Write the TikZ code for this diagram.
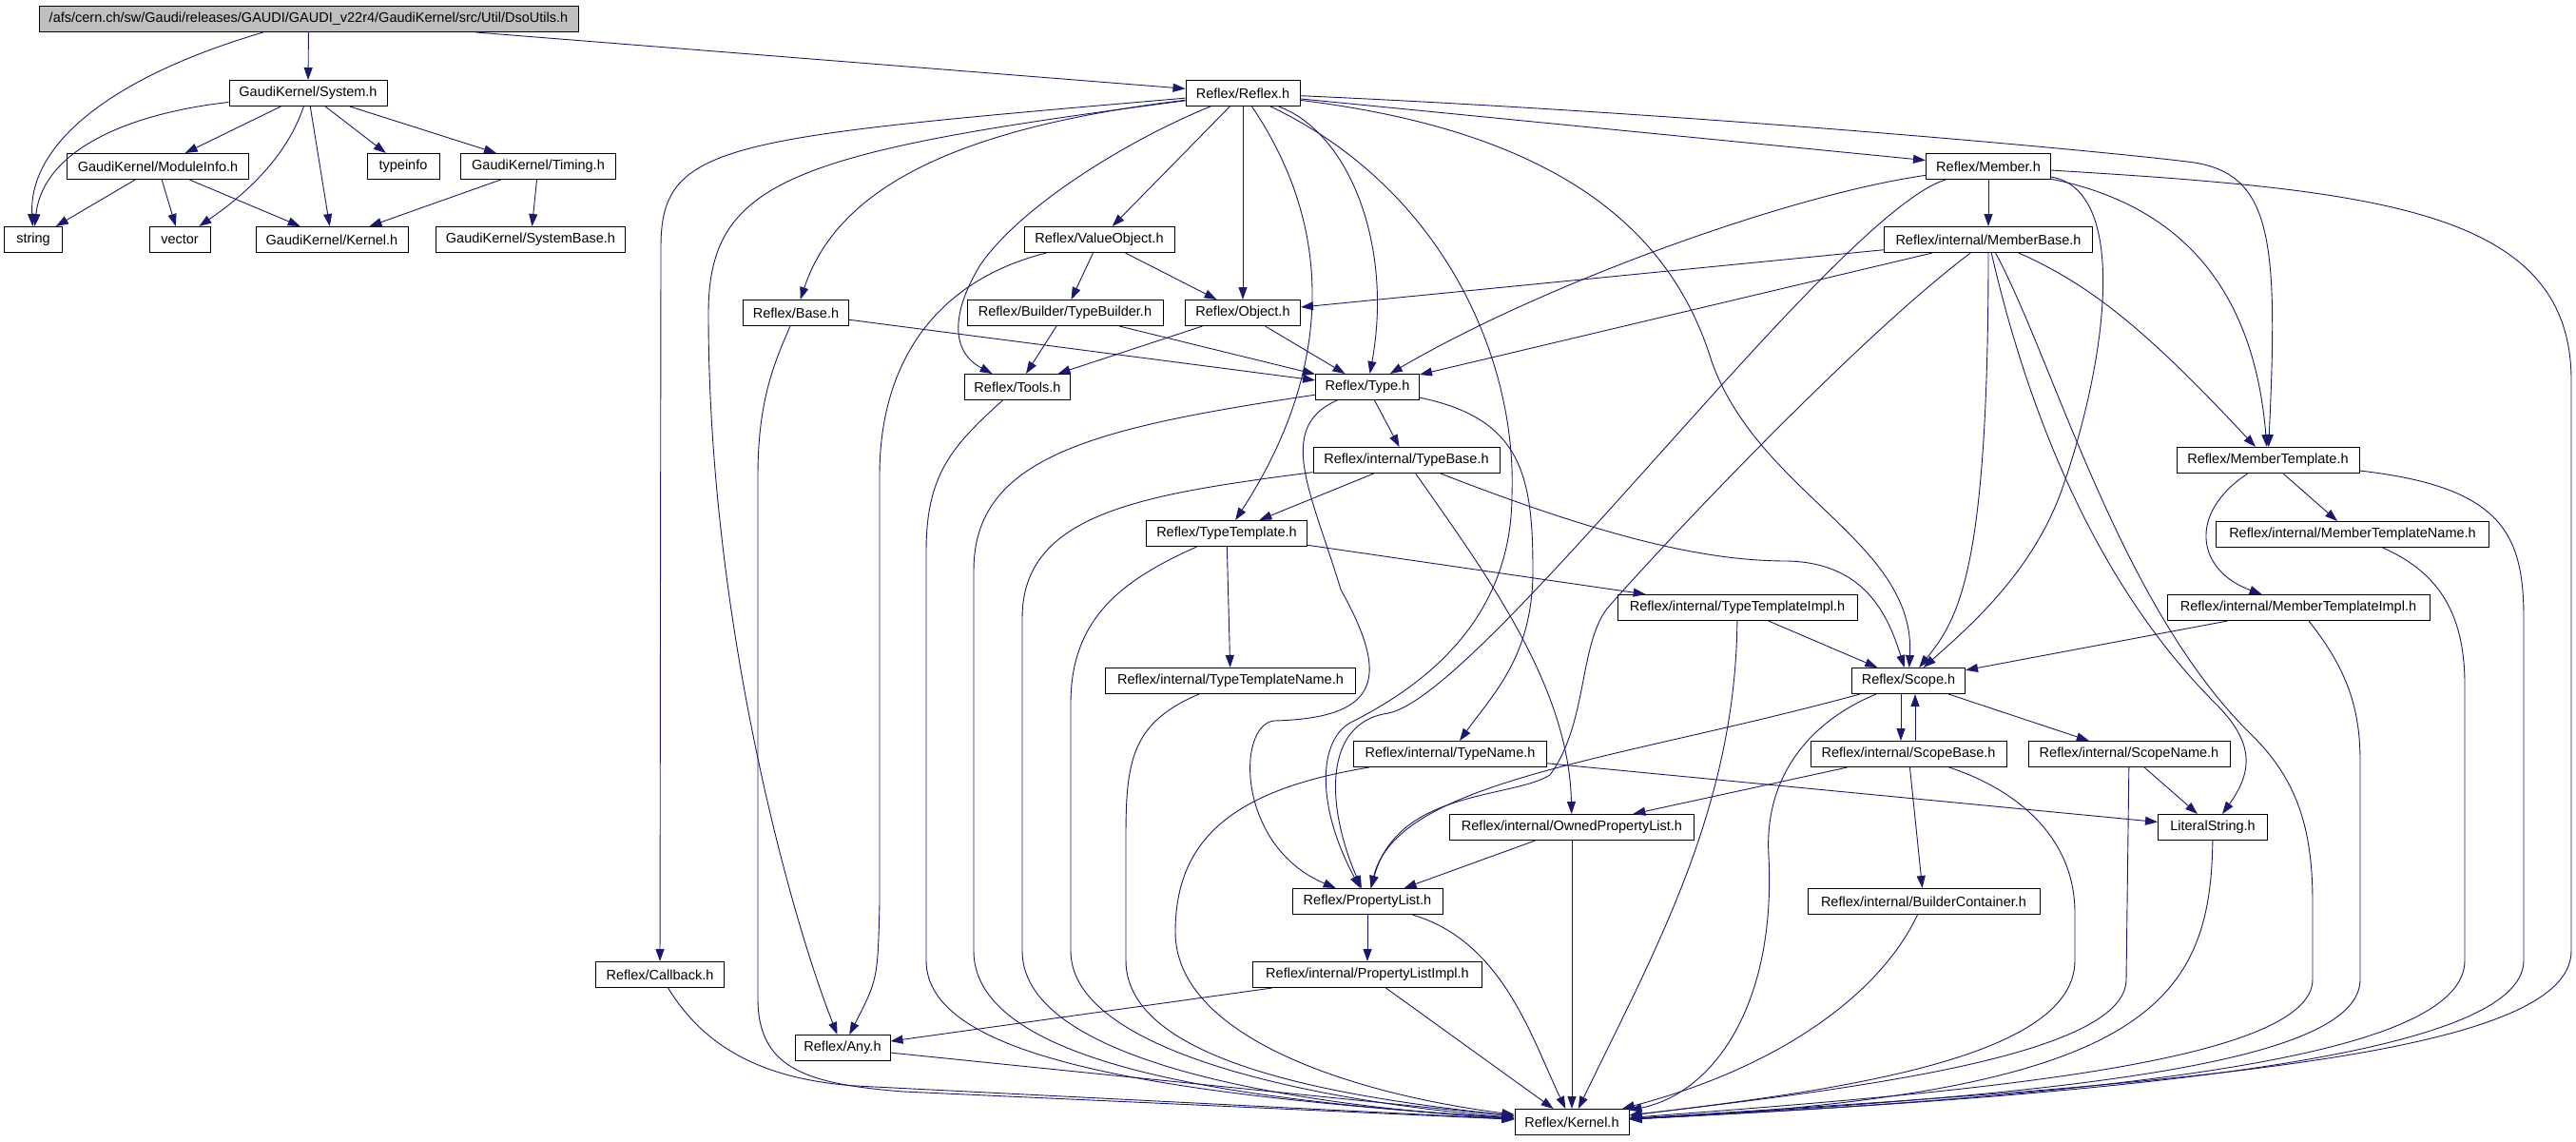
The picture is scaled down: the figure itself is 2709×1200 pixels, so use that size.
\documentclass[tikz,border=0pt]{standalone}
\usepackage{fontspec}
\setmainfont{Liberation Sans}
\usetikzlibrary{arrows.meta}
\definecolor{edgeblue}{HTML}{191970}
\definecolor{rootgray}{HTML}{BFBFBF}

\begin{document}
\begin{tikzpicture}[x=1pt, y=-1pt, >={Triangle[length=13pt,width=9pt]},
	hdr/.style={draw=black, line width=1pt, inner sep=0pt, minimum height=27pt, font=\fontsize{14.5}{17}\selectfont},
	dep/.style={->, draw=edgeblue, line width=0.9pt}]
	\fill[white] (0,0) rectangle (2709,1200);
	\useasboundingbox (0,0) rectangle (2709,1200);

	\node[hdr, fill=rootgray, minimum width=567pt] (dso) at (324.5,20) {/afs/cern.ch/sw/Gaudi/releases/GAUDI/GAUDI\_v22r4/GaudiKernel/src/Util/DsoUtils.h};
	\node[hdr, minimum width=166pt] (sys) at (324,98) {GaudiKernel/System.h};
	\node[hdr, minimum width=120pt] (reflex) at (1307,98) {Reflex/Reflex.h};
	\node[hdr, minimum width=191pt] (modinfo) at (166,175) {GaudiKernel/ModuleInfo.h};
	\node[hdr, minimum width=76pt] (typeinfo) at (424,175) {typeinfo};
	\node[hdr, minimum width=163pt] (timing) at (566,175) {GaudiKernel/Timing.h};
	\node[hdr, minimum width=131pt] (member) at (2091,175) {Reflex/Member.h};
	\node[hdr, minimum width=61pt] (string) at (35,252) {string};
	\node[hdr, minimum width=64pt] (vector) at (189,252) {vector};
	\node[hdr, minimum width=160pt] (gkernel) at (349,252) {GaudiKernel/Kernel.h};
	\node[hdr, minimum width=199pt] (sysbase) at (558,252) {GaudiKernel/SystemBase.h};
	\node[hdr, minimum width=158pt] (valobj) at (1156,252) {Reflex/ValueObject.h};
	\node[hdr, minimum width=219pt] (membase) at (2091,252) {Reflex/internal/MemberBase.h};
	\node[hdr, minimum width=111pt] (base) at (837,329) {Reflex/Base.h};
	\node[hdr, minimum width=206pt] (tbuilder) at (1120,329) {Reflex/Builder/TypeBuilder.h};
	\node[hdr, minimum width=121pt] (object) at (1307,329) {Reflex/Object.h};
	\node[hdr, minimum width=111pt] (tools) at (1070,407) {Reflex/Tools.h};
	\node[hdr, minimum width=109pt] (type) at (1438,407) {Reflex/Type.h};
	\node[hdr, minimum width=196pt] (typebase) at (1479,484) {Reflex/internal/TypeBase.h};
	\node[hdr, minimum width=192pt] (mtempl) at (2385,484) {Reflex/MemberTemplate.h};
	\node[hdr, minimum width=169pt] (ttempl) at (1290,561) {Reflex/TypeTemplate.h};
	\node[hdr, minimum width=287pt] (mtname) at (2474,562) {Reflex/internal/MemberTemplateName.h};
	\node[hdr, minimum width=252pt] (ttimpl) at (1827,639) {Reflex/internal/TypeTemplateImpl.h};
	\node[hdr, minimum width=276pt] (mtimpl) at (2417,639) {Reflex/internal/MemberTemplateImpl.h};
	\node[hdr, minimum width=263pt] (ttname) at (1294,716) {Reflex/internal/TypeTemplateName.h};
	\node[hdr, minimum width=119pt] (scope) at (2007,716) {Reflex/Scope.h};
	\node[hdr, minimum width=203pt] (tname) at (1525,793) {Reflex/internal/TypeName.h};
	\node[hdr, minimum width=206pt] (scopebase) at (2007,793) {Reflex/internal/ScopeBase.h};
	\node[hdr, minimum width=212pt] (scopename) at (2239,793) {Reflex/internal/ScopeName.h};
	\node[hdr, minimum width=257pt] (ownedpl) at (1653,870) {Reflex/internal/OwnedPropertyList.h};
	\node[hdr, minimum width=115pt] (literal) at (2327,870) {LiteralString.h};
	\node[hdr, minimum width=158pt] (proplist) at (1438,948) {Reflex/PropertyList.h};
	\node[hdr, minimum width=244pt] (bcont) at (2023,948) {Reflex/internal/BuilderContainer.h};
	\node[hdr, minimum width=241pt] (plimpl) at (1438,1025) {Reflex/internal/PropertyListImpl.h};
	\node[hdr, minimum width=135pt] (callback) at (694,1025) {Reflex/Callback.h};
	\node[hdr, minimum width=100pt] (any) at (886,1102) {Reflex/Any.h};
	\node[hdr, minimum width=120pt] (kernel) at (1653,1180) {Reflex/Kernel.h};

	% GaudiKernel part
	\draw[dep] (dso) .. controls (120,80) and (30,150) .. (string);
	\draw[dep] (dso) -- (sys);
	\draw[dep] (dso) -- (reflex);
	\draw[dep] (sys) .. controls (130,120) and (45,160) .. (string);
	\draw[dep] (sys) -- (modinfo);
	\draw[dep] (sys) .. controls (300,170) and (250,210) .. (vector);
	\draw[dep] (sys) -- (gkernel);
	\draw[dep] (sys) -- (typeinfo);
	\draw[dep] (sys) -- (timing);
	\draw[dep] (modinfo) -- (string);
	\draw[dep] (modinfo) -- (vector);
	\draw[dep] (modinfo) -- (gkernel);
	\draw[dep] (timing) -- (gkernel);
	\draw[dep] (timing) -- (sysbase);

	% Reflex part
	\draw[dep] (reflex) .. controls (760,145) and (695,150) .. (695,260) -- (callback);
	\draw[dep] (reflex) .. controls (830,160) and (745,190) .. (745,330) .. controls (745,650) and (830,960) .. (any);
	\draw[dep] (reflex) .. controls (1000,135) and (880,200) .. (base);
	\draw[dep] (reflex) .. controls (1180,150) and (1070,220) .. (1030,280) .. controls (1000,330) and (1000,370) .. (tools);
	\draw[dep] (reflex) -- (valobj);
	\draw[dep] (reflex) -- (object);
	\draw[dep] (reflex) .. controls (1420,140) and (1465,260) .. (type);
	\draw[dep] (reflex) .. controls (1410,250) and (1395,400) .. (ttempl);
	\draw[dep] (reflex) .. controls (1520,200) and (1595,380) .. (1590,520) .. controls (1590,650) and (1500,720) .. (1420,760) .. controls (1385,780) and (1385,850) .. (proplist);
	\draw[dep] (reflex) .. controls (1650,140) and (1760,250) .. (1800,380) .. controls (1850,520) and (2015,570) .. (scope);
	\draw[dep] (reflex) -- (member);
	\draw[dep] (reflex) .. controls (1800,120) and (2220,160) .. (2300,170) .. controls (2390,180) and (2396,250) .. (mtempl);

	\draw[dep] (member) .. controls (1880,205) and (1620,300) .. (type);
	\draw[dep] (member) .. controls (1930,225) and (1560,730) .. (1460,750) .. controls (1390,760) and (1395,850) .. (proplist);
	\draw[dep] (member) -- (membase);
	\draw[dep] (member) .. controls (2290,215) and (2370,300) .. (mtempl);
	\draw[dep] (member) .. controls (2240,200) and (2215,380) .. (2170,510) .. controls (2140,600) and (2070,660) .. (scope);
	\draw[dep] (member) .. controls (2500,200) and (2704,220) .. (2704,400) -- (2704,1000) .. controls (2704,1110) and (2300,1140) .. (kernel);

	\draw[dep] (membase) -- (object);
	\draw[dep] (membase) -- (type);
	\draw[dep] (membase) .. controls (1960,350) and (1760,560) .. (1690,640) .. controls (1660,680) and (1670,760) .. (1630,815) .. controls (1590,840) and (1470,830) .. (proplist);
	\draw[dep] (membase) .. controls (2091,600) and (2060,650) .. (scope);
	\draw[dep] (membase) .. controls (2200,300) and (2260,350) .. (mtempl);
	\draw[dep] (membase) .. controls (2125,400) and (2190,600) .. (2330,740) .. controls (2370,780) and (2370,810) .. (literal);
	\draw[dep] (membase) .. controls (2160,380) and (2230,640) .. (2370,775) .. controls (2420,825) and (2432,880) .. (2432,950) -- (2432,1030) .. controls (2432,1120) and (2050,1150) .. (kernel);

	\draw[dep] (mtempl) -- (mtname);
	\draw[dep] (mtempl) .. controls (2300,540) and (2310,600) .. (mtimpl);
	\draw[dep] (mtempl) .. controls (2630,512) and (2654,560) .. (2654,650) -- (2654,1010) .. controls (2654,1110) and (2250,1150) .. (kernel);
	\draw[dep] (mtname) .. controls (2560,600) and (2592,640) .. (2592,720) -- (2592,1010) .. controls (2592,1110) and (2250,1150) .. (kernel);
	\draw[dep] (mtimpl) -- (scope);
	\draw[dep] (mtimpl) .. controls (2465,700) and (2482,740) .. (2482,800) -- (2482,1030) .. controls (2482,1115) and (2200,1150) .. (kernel);

	\draw[dep] ([xshift=-8pt]scope.south) -- ([xshift=-8pt]scopebase.north);
	\draw[dep] ([xshift=7pt]scopebase.north) -- ([xshift=7pt]scope.south);
	\draw[dep] (scope) -- (scopename);
	\draw[dep] (scope) .. controls (1700,800) and (1470,820) .. (proplist);
	\draw[dep] (scope) .. controls (1900,760) and (1855,820) .. (1860,900) .. controls (1868,1060) and (1800,1150) .. (kernel);
	\draw[dep] (scopebase) -- (ownedpl);
	\draw[dep] (scopebase) -- (bcont);
	\draw[dep] (scopebase) .. controls (2120,830) and (2182,880) .. (2182,960) -- (2182,1010) .. controls (2182,1110) and (1950,1145) .. (kernel);
	\draw[dep] (scopename) -- (literal);
	\draw[dep] (scopename) -- (2236,1030) .. controls (2236,1110) and (1950,1145) .. (kernel);
	\draw[dep] (literal) .. controls (2325,1060) and (2250,1150) .. (kernel);
	\draw[dep] (tname) -- (literal);
	\draw[dep] (tname) .. controls (1300,830) and (1236,880) .. (1236,980) .. controls (1236,1090) and (1420,1150) .. (kernel);

	\draw[dep] (type) .. controls (1150,450) and (1024,480) .. (1024,600) -- (1024,1000) .. controls (1024,1130) and (1350,1160) .. (kernel);
	\draw[dep] (type) -- (typebase);
	\draw[dep] (type) .. controls (1600,440) and (1612,500) .. (1612,600) .. controls (1612,690) and (1570,730) .. (tname);
	\draw[dep] (type) .. controls (1340,450) and (1380,520) .. (1410,620) .. controls (1460,710) and (1455,755) .. (1340,758) .. controls (1300,762) and (1300,890) .. (proplist);
	\draw[dep] (typebase) -- (ttempl);
	\draw[dep] (typebase) .. controls (1200,520) and (1075,540) .. (1075,650) -- (1075,1000) .. controls (1075,1125) and (1400,1165) .. (kernel);
	\draw[dep] (typebase) .. controls (1560,600) and (1650,720) .. (ownedpl);
	\draw[dep] (typebase) .. controls (1700,570) and (1800,590) .. (1880,590) .. controls (1960,592) and (1985,645) .. (scope);
	\draw[dep] (ttempl) -- (ttimpl);
	\draw[dep] (ttempl) -- (ttname);
	\draw[dep] (ttempl) .. controls (1180,610) and (1126,650) .. (1126,740) -- (1126,1000) .. controls (1126,1110) and (1400,1160) .. (kernel);
	\draw[dep] (ttimpl) -- (scope);
	\draw[dep] (ttimpl) .. controls (1825,850) and (1740,1000) .. (kernel);
	\draw[dep] (ttname) .. controls (1190,760) and (1184,800) .. (1184,880) -- (1184,1010) .. controls (1184,1120) and (1420,1155) .. (kernel);

	\draw[dep] (ownedpl) -- (proplist);
	\draw[dep] (ownedpl) -- (kernel);
	\draw[dep] (proplist) -- (plimpl);
	\draw[dep] (proplist) .. controls (1580,990) and (1610,1090) .. (kernel);
	\draw[dep] (plimpl) -- (any);
	\draw[dep] (plimpl) -- (kernel);
	\draw[dep] (bcont) .. controls (1980,1040) and (1880,1120) .. (kernel);
	\draw[dep] (any) -- (kernel);
	\draw[dep] (callback) .. controls (740,1100) and (800,1135) .. (900,1142) -- (kernel);

	\draw[dep] (base) -- (type);
	\draw[dep] (base) .. controls (815,380) and (797,420) .. (797,500) -- (797,1050) .. controls (797,1125) and (850,1140) .. (950,1148) -- (kernel);
	\draw[dep] (tools) .. controls (1000,470) and (974,500) .. (974,580) -- (974,1010) .. controls (974,1110) and (1200,1150) .. (kernel);
	\draw[dep] (object) -- (type);
	\draw[dep] (object) -- (tools);
	\draw[dep] (valobj) -- (tbuilder);
	\draw[dep] (valobj) -- (object);
	\draw[dep] (valobj) .. controls (985,295) and (925,380) .. (925,500) -- (925,950) .. controls (923,1030) .. (any);
	\draw[dep] (tbuilder) -- (tools);
	\draw[dep] (tbuilder) -- (type);
\end{tikzpicture}
\end{document}
